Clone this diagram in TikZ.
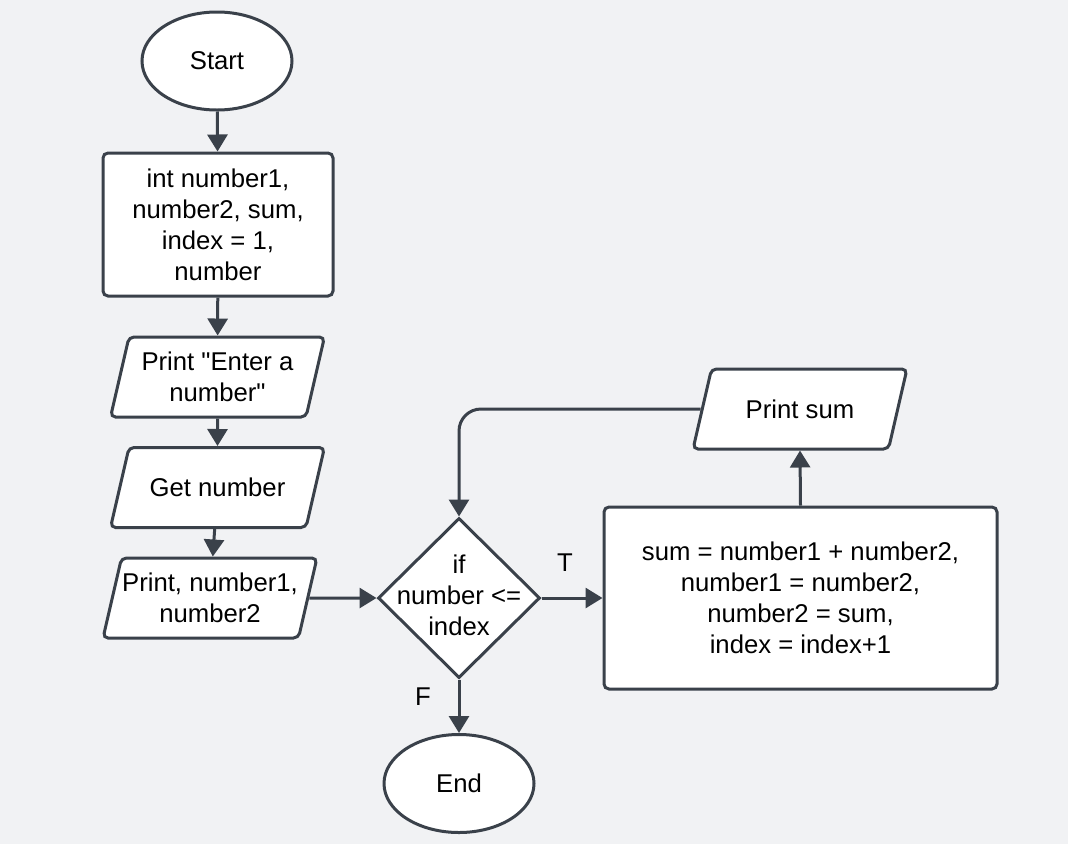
\documentclass[tikz,border=0pt]{standalone}
\usepackage{fontspec}
\setmainfont{Liberation Sans}
\usetikzlibrary{arrows.meta,shapes.geometric}
\definecolor{lineclr}{HTML}{3A414A}
\definecolor{bgclr}{HTML}{F1F2F4}
\newcommand{\iotext}[1]{\parbox[c][58pt][c]{177pt}{\centering #1}}

\begin{document}
\begin{tikzpicture}[x=1pt, y=-1pt,
    every node/.style={font=\fontsize{25.7pt}{31pt}\selectfont, align=center, text=black},
    term/.style={shape=ellipse, draw=lineclr, fill=white, line width=3pt, minimum width=150pt, minimum height=98pt},
    proc/.style={shape=rectangle, draw=lineclr, fill=white, line width=3pt, rounded corners=5pt},
    io/.style={shape=trapezium, trapezium left angle=77, trapezium right angle=103,
        draw=lineclr, fill=white, line width=3pt, rounded corners=5pt, inner xsep=0pt, inner ysep=11pt},
    decision/.style={shape=diamond, draw=lineclr, fill=white, line width=3pt, inner sep=0pt, minimum width=162pt, minimum height=160pt},
    arr/.style={-{Triangle[length=17pt,width=20pt]}, draw=lineclr, line width=3pt}]
    \fill[bgclr] (0,0) rectangle (1068,844);
    \useasboundingbox (0,0) rectangle (1068,844);

    \node[term] (1) at (217,61) {Start};
    \node[proc, minimum width=230pt, minimum height=143pt] (2) at (218,224.5) {int number1,\\number2, sum,\\index = 1,\\number};
    \node[io] (3) at (217.5,377) {\iotext{Print \textquotedbl Enter a\\number\textquotedbl}};
    \node[io] (4) at (217.5,487.5) {\iotext{Get number}};
    \node[io] (5) at (210,598) {\iotext{Print, number1,\\number2}};
    \node[decision] (6) at (459,598) {\makebox[0pt]{\begin{tabular}{@{}c@{}}if\\number <=\\index\end{tabular}}};
    \node[proc, minimum width=393pt, minimum height=182pt] (7) at (800.5,598) {sum = number1 + number2,\\number1 = number2,\\number2 = sum,\\index = index+1};
    \node[io] (8) at (800,409) {\iotext{Print sum}};
    \node[term] (9) at (459,783.5) {End};
    \node (T) at (565,563) {T};
    \node (F) at (423,697) {F};

    \draw[arr] (1) -- (2);
    \draw[arr] (2) -- (3);
    \draw[arr] (3) -- (4);
    \draw[arr] (4) -- (5);
    \draw[arr] (5.east) -- (6.west);
    \draw[arr] (6.east) -- (7.west);
    \draw[arr] (7.north) -- (8.south);
    \draw[arr, rounded corners=22pt] (8.west) -| (6.north);
    \draw[arr] (6.south) -- (9.north);
\end{tikzpicture}
\end{document}
